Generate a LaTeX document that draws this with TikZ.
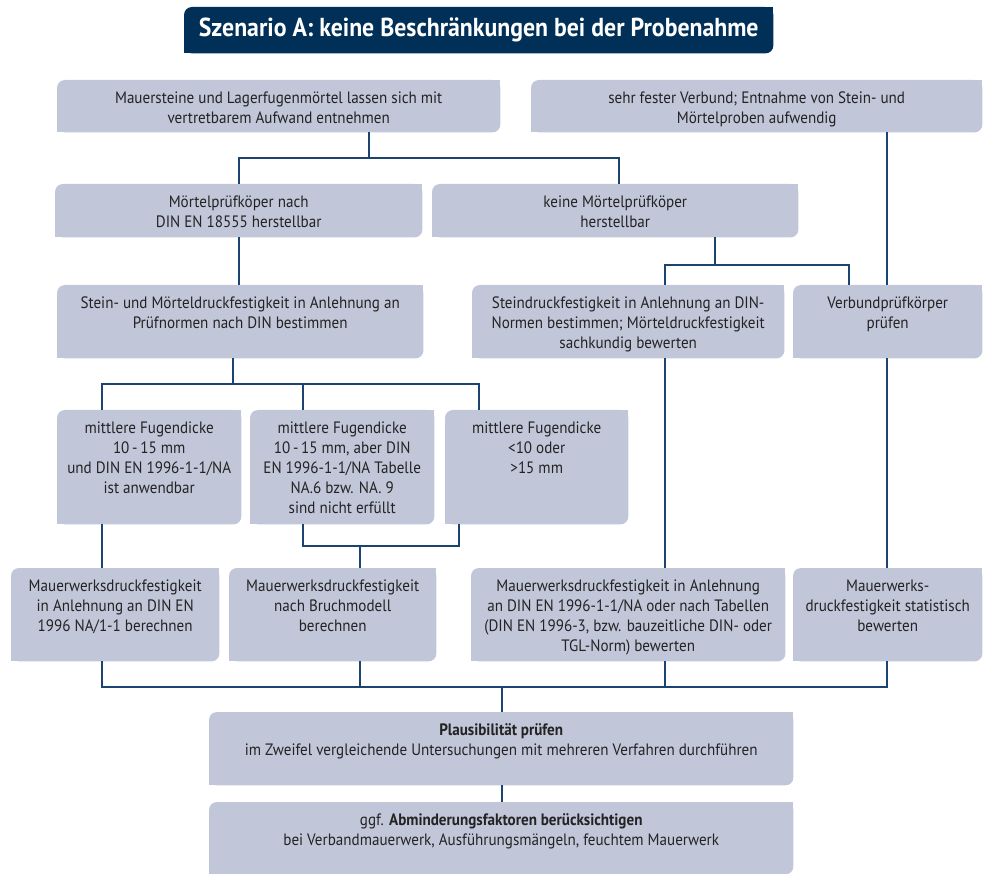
\documentclass[tikz,border=0pt]{standalone}
\usepackage{fontspec}
\setmainfont[FakeStretch=0.915]{PT Sans}
\usetikzlibrary{backgrounds}
\definecolor{boxfill}{RGB}{193,198,217}
\definecolor{linkblue}{RGB}{28,68,112}
\definecolor{titlenavy}{RGB}{0,48,87}
\definecolor{textgray}{RGB}{35,35,35}
% text block: width, height, lines (top aligned)
\newcommand{\boxtext}[3]{\parbox[t][#2pt][t]{#1pt}{\centering\rule{0pt}{23pt}#3}}
% box with rounded top-left and bottom-right corner
\newcommand{\panelshape}[2]{%
  \fill[#1,rounded corners=8pt] (#2.south west) rectangle (#2.north east);
  \fill[#1] (#2.north east) rectangle ([xshift=-10pt,yshift=-10pt]#2.north east);
  \fill[#1] (#2.south west) rectangle ([xshift=10pt,yshift=10pt]#2.south west);
}
\begin{document}
\begin{tikzpicture}[x=1pt,y=-1pt,
  panel/.style={inner sep=0pt,anchor=north west,text=textgray,font=\fontsize{16.5}{20}\selectfont},
  link/.style={draw=linkblue,line width=2pt}]
\useasboundingbox (0,0) rectangle (986,874);

% Title
\node[inner sep=0pt,anchor=north west,text=white,font=\fontsize{26}{28}\selectfont\bfseries] (T) at (184,7)
  {\parbox[c][46pt][c]{589pt}{\centering Szenario A: keine Beschränkungen bei der Probenahme}};

% Sampling
\node[panel] (A) at (57,80) {\boxtext{443}{52}{Mauersteine und Lagerfugenmörtel lassen sich mit\\vertretbarem Aufwand entnehmen}};
\node[panel] (B) at (531,80) {\boxtext{451}{52}{sehr fester Verbund; Entnahme von Stein- und\\Mörtelproben aufwendig}};

% Mortar specimens
\node[panel] (C) at (55,184) {\boxtext{367}{53}{Mörtelprüfköper nach\\DIN EN 18555 herstellbar}};
\node[panel] (D) at (432,184) {\boxtext{366}{53}{keine Mörtelprüfköper\\herstellbar}};

% Strength tests
\node[panel] (E) at (57,285) {\boxtext{366}{73}{Stein- und Mörteldruckfestigkeit in Anlehnung an\\Prüfnormen nach DIN bestimmen}};
\node[panel] (F) at (472,285) {\boxtext{312}{73}{Steindruckfestigkeit in Anlehnung an DIN-\\Normen bestimmen; Mörteldruckfestigkeit\\sachkundig bewerten}};
\node[panel] (G) at (793,285) {\boxtext{189}{73}{Verbundprüfkörper\\prüfen}};

% Joint thickness
\node[panel] (H) at (57,410) {\boxtext{184}{114}{mittlere Fugendicke\\10\,-\,15 mm\\und DIN EN 1996-1-1/NA\\ist anwendbar}};
\node[panel] (I) at (250,410) {\boxtext{184}{114}{mittlere Fugendicke\\10\,-\,15 mm, aber DIN\\EN 1996-1-1/NA Tabelle\\NA.6 bzw. NA. 9\\sind nicht erfüllt}};
\node[panel] (J) at (445,410) {\boxtext{183}{114}{mittlere Fugendicke\\<10 oder\\>15 mm}};

% Masonry strength
\node[panel] (K) at (11,568) {\boxtext{208}{93}{Mauerwerksdruckfestigkeit\\in Anlehnung an DIN EN\\1996 NA/1-1 berechnen}};
\node[panel] (L) at (229,568) {\boxtext{207}{93}{Mauerwerksdruckfestigkeit\\nach Bruchmodell\\berechnen}};
\node[panel] (M) at (471,568) {\boxtext{314}{93}{Mauerwerksdruckfestigkeit in Anlehnung\\an DIN EN 1996-1-1/NA oder nach Tabellen\\(DIN EN 1996-3, bzw. bauzeitliche DIN- oder\\TGL-Norm) bewerten}};
\node[panel] (N) at (793,568) {\boxtext{189}{93}{Mauerwerks-\\druckfestigkeit statistisch\\bewerten}};

% Checks
\node[panel] (O) at (209,712) {\boxtext{584}{73}{\textbf{Plausibilität prüfen}\\im Zweifel vergleichende Untersuchungen mit mehreren Verfahren durchführen}};
\node[panel] (P) at (209,802) {\boxtext{584}{72}{ggf. \textbf{Abminderungsfaktoren berücksichtigen}\\bei Verbandmauerwerk, Ausführungsmängeln, feuchtem Mauerwerk}};

\begin{scope}[on background layer]
\foreach \n in {A,B,C,D,E,F,G,H,I,J,K,L,M,N,O,P} {
  \panelshape{boxfill}{\n}
}
\panelshape{titlenavy}{T}
\end{scope}

% Junctions
\coordinate (b1m) at (369,158);
\coordinate (b1l) at (239,158);
\coordinate (b1r) at (619,158);
\coordinate (b2m) at (715,265);
\coordinate (b2l) at (665,265);
\coordinate (b2r) at (849,265);
\coordinate (vB) at (887,0);
\coordinate (b3m) at (233,384);
\coordinate (b3l) at (102,384);
\coordinate (b3i) at (303,384);
\coordinate (b3r) at (479,384);
\coordinate (b4m) at (360,546);
\coordinate (b4l) at (303,546);
\coordinate (b4r) at (459,546);
\coordinate (b5m) at (502,687);
\coordinate (b5l) at (102,687);
\coordinate (b5r) at (887,687);

% Connectors
\draw[link] (A.south -| b1m) -- (b1m);
\draw[link] (C.north -| b1l) -- (b1l) -- (b1r) -- (D.north -| b1r);
\draw[link] (C.south -| b1l) -- (E.north -| b1l);
\draw[link] (D.south -| b2m) -- (b2m);
\draw[link] (F.north -| b2l) -- (b2l) -- (b2r) -- (G.north -| b2r);
\draw[link] (B.south -| vB) -- (G.north -| vB);
\draw[link] (E.south -| b3m) -- (b3m);
\draw[link] (H.north -| b3l) -- (b3l) -- (b3r) -- (J.north -| b3r);
\draw[link] (I.north -| b3i) -- (b3i);
\draw[link] (H.south -| b3l) -- (K.north -| b3l);
\draw[link] (I.south -| b4l) -- (b4l) -- (b4r) -- (J.south -| b4r);
\draw[link] (b4m) -- (L.north -| b4m);
\draw[link] (F.south -| b2l) -- (M.north -| b2l);
\draw[link] (G.south -| vB) -- (N.north -| vB);
\draw[link] (K.south -| b5l) -- (b5l) -- (b5r) -- (N.south -| b5r);
\draw[link] (L.south -| b4m) -- (b4m |- b5l);
\draw[link] (M.south -| b2l) -- (b2l |- b5l);
\draw[link] (b5m) -- (O.north -| b5m);
\draw[link] (O.south -| b5m) -- (P.north -| b5m);
\end{tikzpicture}
\end{document}
